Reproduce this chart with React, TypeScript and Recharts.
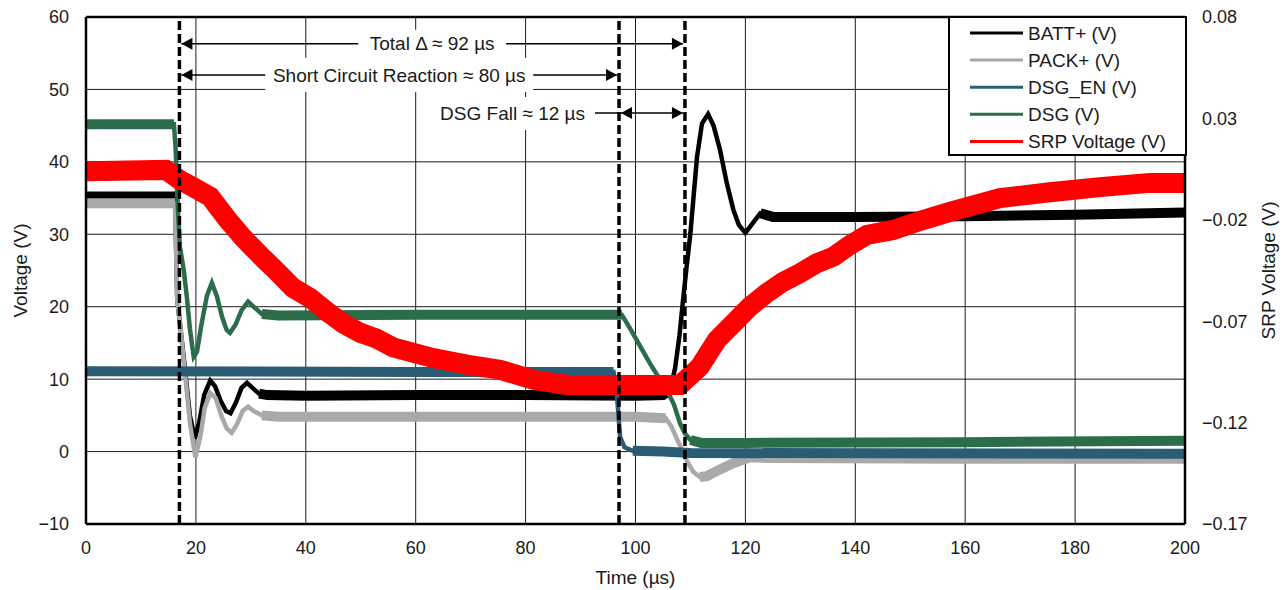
import React from 'react';
import { LineChart, Line, XAxis, YAxis, CartesianGrid, ReferenceLine } from 'recharts';

type Pt = [number, number];

const timeTicks = [0, 20, 40, 60, 80, 100, 120, 140, 160, 180, 200];
const voltTicks = [-10, 0, 10, 20, 30, 40, 50, 60];
const srpTicks = [-0.17, -0.12, -0.07, -0.02, 0.03, 0.08];

const seriesNames = ['BATT+ (V)', 'PACK+ (V)', 'DSG_EN (V)', 'DSG (V)', 'SRP Voltage (V)'];

// scope traces: [time µs, volts]
const battPlus: Pt[] = [
  [0, 35.2], [16.2, 35.2], [16.6, 21], [17.2, 17], [18, 11.5], [18.9, 5], [19.8, 1.8], [20.6, 4],
  [21.5, 7.8], [22.6, 9.8], [23.5, 9], [24.5, 7], [25.5, 5.6], [26.3, 5.3], [27.3, 6.8], [28.3, 8.8],
  [29.3, 9.5], [30.3, 8.8], [31.5, 8], [33, 7.8], [40, 7.7], [60, 7.8], [80, 7.8], [100, 7.7],
  [105, 7.8], [106.3, 8.5], [107.2, 11.5], [108, 16], [108.6, 20.5], [109.3, 25.5], [110, 30.2],
  [110.6, 35.5], [111.2, 40.7], [112.1, 45.3], [113.2, 46.6], [114.2, 45], [115.4, 41.6], [116.6, 37.1],
  [117.8, 33.4], [118.8, 31.3], [120, 30.2], [121, 31.2], [122.7, 32.9], [125, 32.4], [140, 32.4],
  [160, 32.5], [180, 32.7], [200, 33],
];

const packPlus: Pt[] = [
  [0, 34.3], [16.2, 34.3], [16.6, 21], [17.2, 17], [18, 11], [18.9, 4], [19.9, -0.8], [20.8, 2],
  [21.6, 6], [22.6, 8.1], [23.6, 7.4], [24.6, 5], [25.6, 3.2], [26.5, 2.6], [27.5, 3.8], [28.5, 5.6],
  [29.5, 6.2], [30.5, 5.6], [32, 5], [35, 4.8], [60, 4.8], [80, 4.8], [100, 4.8], [105.5, 4.6],
  [106.5, 3.5], [107.5, 1.8], [108.5, 0.2], [109.5, -1.5], [110.5, -2.8], [111.7, -3.5], [113, -3.4],
  [115, -2.6], [117.8, -1.6], [120.8, -0.8], [125, -0.9], [160, -1], [200, -1],
];

const dsgEn: Pt[] = [
  [0, 11.1], [60, 11], [96, 11], [96.6, 8], [97.2, 2], [98, 0.6], [99.5, 0.1], [105, 0],
  [110, -0.2], [200, -0.3],
];

const dsg: Pt[] = [
  [0, 45.2], [16, 45.2], [16.3, 42], [16.7, 34], [17.1, 28.2], [17.8, 25], [18.4, 21], [18.9, 17],
  [19.6, 13.1], [20.2, 13.8], [21, 17.5], [22, 21.5], [22.9, 23.3], [23.8, 21.5], [24.8, 18.5],
  [25.6, 16.8], [26.2, 16.4], [27.2, 17.5], [28.3, 19.5], [29.5, 20.7], [30.5, 20], [32, 19],
  [35, 18.8], [60, 18.9], [80, 18.9], [97.5, 18.9], [99, 17], [100.5, 15], [102.6, 12.2], [104, 10.5],
  [105.7, 8.5], [107, 6.5], [108.1, 3.9], [109, 2.5], [110, 1.6], [112, 1.2], [120, 1.2], [160, 1.3],
  [200, 1.5],
];

// sense resistor voltage, right axis
const srp: Pt[] = [
  [0, 0.0039], [14.5, 0.0046], [17.1, -0.0004], [19.5, -0.0039], [22.6, -0.0086], [25.6, -0.0193],
  [28.6, -0.0289], [31.7, -0.0375], [34.8, -0.0457], [37.7, -0.0536], [40.8, -0.0586], [43.9, -0.0654],
  [46.8, -0.0711], [49.9, -0.0757], [52.9, -0.0786], [55.9, -0.0829], [63.2, -0.0882], [69.3, -0.0914],
  [75.3, -0.0939], [81.4, -0.0989], [87.5, -0.1014], [99.6, -0.1014], [108.1, -0.1014], [111.7, -0.0925],
  [114.8, -0.0793], [117.8, -0.0711], [120.8, -0.0629], [123.9, -0.0561], [126.8, -0.0507],
  [129.9, -0.0464], [133, -0.0414], [136, -0.0382], [139, -0.0325], [142.1, -0.0275], [146.9, -0.025],
  [152, -0.0204], [157.2, -0.0161], [166.3, -0.0093], [175.4, -0.0064], [184.5, -0.0039],
  [193.6, -0.0018], [200, -0.0018],
];

// time windows where each trace just sits as a flat noisy band
const battFlat: Pt[] = [[0, 16.2], [31.5, 106.3], [122.7, 200]];
const packFlat: Pt[] = [[0, 16.2], [32, 105.5], [111.7, 200]];
const dsgEnFlat: Pt[] = [[0, 96], [99.5, 200]];
const dsgFlat: Pt[] = [[0, 16], [32, 97.5], [110, 200]];

// cursors (µs) and the measured spans
const cursors = [17, 97, 109];
const spanTotal = { from: 17, to: 109, at: 56.3, text: 'Total Δ ≈ 92 µs' };
const spanReaction = { from: 17, to: 97, at: 52, text: 'Short Circuit Reaction ≈ 80 µs' };
const spanFall = { from: 97, to: 109, at: 46.75, text: 'DSG Fall ≈ 12 µs' };

const colors = ['#000000', '#a9a9a9', '#2a5d75', '#2b6d4a', '#ff0000'];
const FONT = 'Arial, "Liberation Sans", sans-serif';
const INK = '#1a1a1a';
const LABEL_SIZE = 19;

const rows = (pts: Pt[]) => pts.map(([t, v]) => ({ t, v }));
const within = (t: number, ranges: Pt[]) => ranges.some(([a, b]) => t >= a && t <= b);

const fmtVolt = (v: number) => (v < 0 ? '\u2212' + Math.abs(v) : String(v));
const fmtSrp = (v: number) => (v < -1e-9 ? '\u2212' : '') + Math.abs(v).toFixed(2);

const head = (tip: number, y: number, dir: number) => (
  <polygon points={`${tip},${y} ${tip - dir * 11},${y - 6} ${tip - dir * 11},${y + 6}`} fill="#000" />
);

// arrow between two cursors with the label sitting on a white box in the middle
const spanShape = (text: string, boxW: number, boxH: number) => (p: any) => {
  const { x1, x2, y1: y } = p;
  const mid = (x1 + x2) / 2;
  return (
    <g>
      <line x1={x1 + 2} x2={x2 - 2} y1={y} y2={y} stroke="#000" strokeWidth={1.5} />
      {head(x1 + 2, y, -1)}
      {head(x2 - 2, y, 1)}
      <rect x={mid - boxW / 2} y={y - boxH / 2} width={boxW} height={boxH} fill="#fff" />
      <text x={mid} y={y} dy="0.35em" textAnchor="middle" fontSize={LABEL_SIZE} fill={INK} fontFamily={FONT}>
        {text}
      </text>
    </g>
  );
};

// DSG fall: label left of the first cursor, leader line, outward arrows between cursors
const fallShape = (text: string) => (p: any) => {
  const { x1, x2, y1: y } = p;
  return (
    <g>
      <rect x={x1 - 183} y={y - 16} width={156} height={33} fill="#fff" />
      <line x1={x1 - 24} x2={x2 - 2} y1={y} y2={y} stroke="#000" strokeWidth={1.5} />
      {head(x1 + 2, y, -1)}
      {head(x2 - 2, y, 1)}
      <text x={x1 - 34} y={y} dy="0.35em" textAnchor="end" fontSize={LABEL_SIZE} fill={INK} fontFamily={FONT}>
        {text}
      </text>
    </g>
  );
};

const axisTitle = (text: string, dx: number, dy: number, rotate: boolean) => (p: any) => {
  const vb = p.viewBox || { x: 0, y: 0, width: 0, height: 0 };
  const cx = rotate ? vb.x + dx : vb.x + vb.width / 2;
  const cy = rotate ? vb.y + vb.height / 2 : vb.y + dy;
  return (
    <text
      x={cx}
      y={cy}
      dy="0.35em"
      textAnchor="middle"
      fontSize={LABEL_SIZE}
      fill={INK}
      fontFamily={FONT}
      transform={rotate ? `rotate(-90 ${cx} ${cy})` : undefined}
    >
      {text}
    </text>
  );
};

const trace = (pts: Pt[], flat: Pt[], color: string, key: string) => [
  <Line
    key={key + '-thin'}
    yAxisId="left"
    data={rows(pts)}
    dataKey="v"
    type="linear"
    stroke={color}
    strokeWidth={4.5}
    dot={false}
    activeDot={false}
    isAnimationActive={false}
  />,
  <Line
    key={key + '-band'}
    yAxisId="left"
    data={rows(pts)}
    dataKey={(d: any) => (within(d.t, flat) ? d.v : null)}
    type="linear"
    stroke={color}
    strokeWidth={10}
    dot={false}
    activeDot={false}
    isAnimationActive={false}
  />,
];

const tickStyle = { fontSize: 18, fill: INK, fontFamily: FONT };
const axisLine = { stroke: '#000', strokeWidth: 2.5 };

const App: React.FC = () => {
  return (
    <div style={{ position: 'absolute', left: 0, top: 0, width: 1286, height: 590, background: '#fff', fontFamily: FONT }}>
      <LineChart width={1286} height={590} margin={{ top: 17, right: 0, bottom: 0, left: 0 }}>
        <CartesianGrid yAxisId="left" stroke="#1c1c1c" strokeWidth={1} />
        <XAxis
          dataKey="t"
          type="number"
          domain={[0, 200]}
          ticks={timeTicks}
          interval={0}
          height={66}
          tickLine={false}
          tickSize={0}
          tickMargin={17}
          axisLine={axisLine}
          tick={tickStyle}
          label={{ content: axisTitle('Time (µs)', 0, 53, false) }}
        />
        <YAxis
          yAxisId="left"
          type="number"
          domain={[-10, 60]}
          ticks={voltTicks}
          interval={0}
          width={86}
          tickLine={false}
          tickSize={0}
          tickMargin={17}
          axisLine={axisLine}
          tick={tickStyle}
          tickFormatter={fmtVolt}
          label={{ content: axisTitle('Voltage (V)', 20, 0, true) }}
        />
        <YAxis
          yAxisId="right"
          orientation="right"
          type="number"
          domain={[-0.17, 0.08]}
          ticks={srpTicks}
          interval={0}
          width={101}
          tickLine={false}
          tickSize={0}
          tickMargin={17}
          axisLine={axisLine}
          tick={tickStyle}
          tickFormatter={fmtSrp}
          label={{ content: axisTitle('SRP Voltage (V)', 83, 0, true) }}
        />
        <ReferenceLine yAxisId="left" y={60} stroke="#000" strokeWidth={2.5} />

        {trace(battPlus, battFlat, colors[0], 'batt')}
        {trace(packPlus, packFlat, colors[1], 'pack')}
        {trace(dsgEn, dsgEnFlat, colors[2], 'dsgen')}
        {trace(dsg, dsgFlat, colors[3], 'dsg')}
        <Line
          yAxisId="right"
          data={rows(srp)}
          dataKey="v"
          type="linear"
          stroke={colors[4]}
          strokeWidth={20}
          dot={false}
          activeDot={false}
          isAnimationActive={false}
        />

        {cursors.map((c) => (
          <ReferenceLine key={c} yAxisId="left" x={c} stroke="#000" strokeWidth={3.5} strokeDasharray="9 4" />
        ))}
        <ReferenceLine
          yAxisId="left"
          segment={[{ x: spanTotal.from, y: spanTotal.at }, { x: spanTotal.to, y: spanTotal.at }]}
          shape={spanShape(spanTotal.text, 148, 28)}
        />
        <ReferenceLine
          yAxisId="left"
          segment={[{ x: spanReaction.from, y: spanReaction.at }, { x: spanReaction.to, y: spanReaction.at }]}
          shape={spanShape(spanReaction.text, 268, 34)}
        />
        <ReferenceLine
          yAxisId="left"
          segment={[{ x: spanFall.from, y: spanFall.at }, { x: spanFall.to, y: spanFall.at }]}
          shape={fallShape(spanFall.text)}
        />
      </LineChart>

      <div
        style={{
          position: 'absolute',
          left: 948,
          top: 16,
          width: 239,
          height: 140,
          boxSizing: 'border-box',
          border: '2px solid #000',
          background: '#fff',
        }}
      >
        <svg width={235} height={136} style={{ display: 'block' }}>
          {seriesNames.map((name, i) => {
            const y = 15 + i * 27.1;
            return (
              <g key={name}>
                <line x1={20} x2={73} y1={y} y2={y} stroke={colors[i]} strokeWidth={3} />
                <text x={78} y={y} dy="0.35em" fontSize={LABEL_SIZE} fill={INK} fontFamily={FONT}>
                  {name}
                </text>
              </g>
            );
          })}
        </svg>
      </div>
    </div>
  );
};

export default App;
